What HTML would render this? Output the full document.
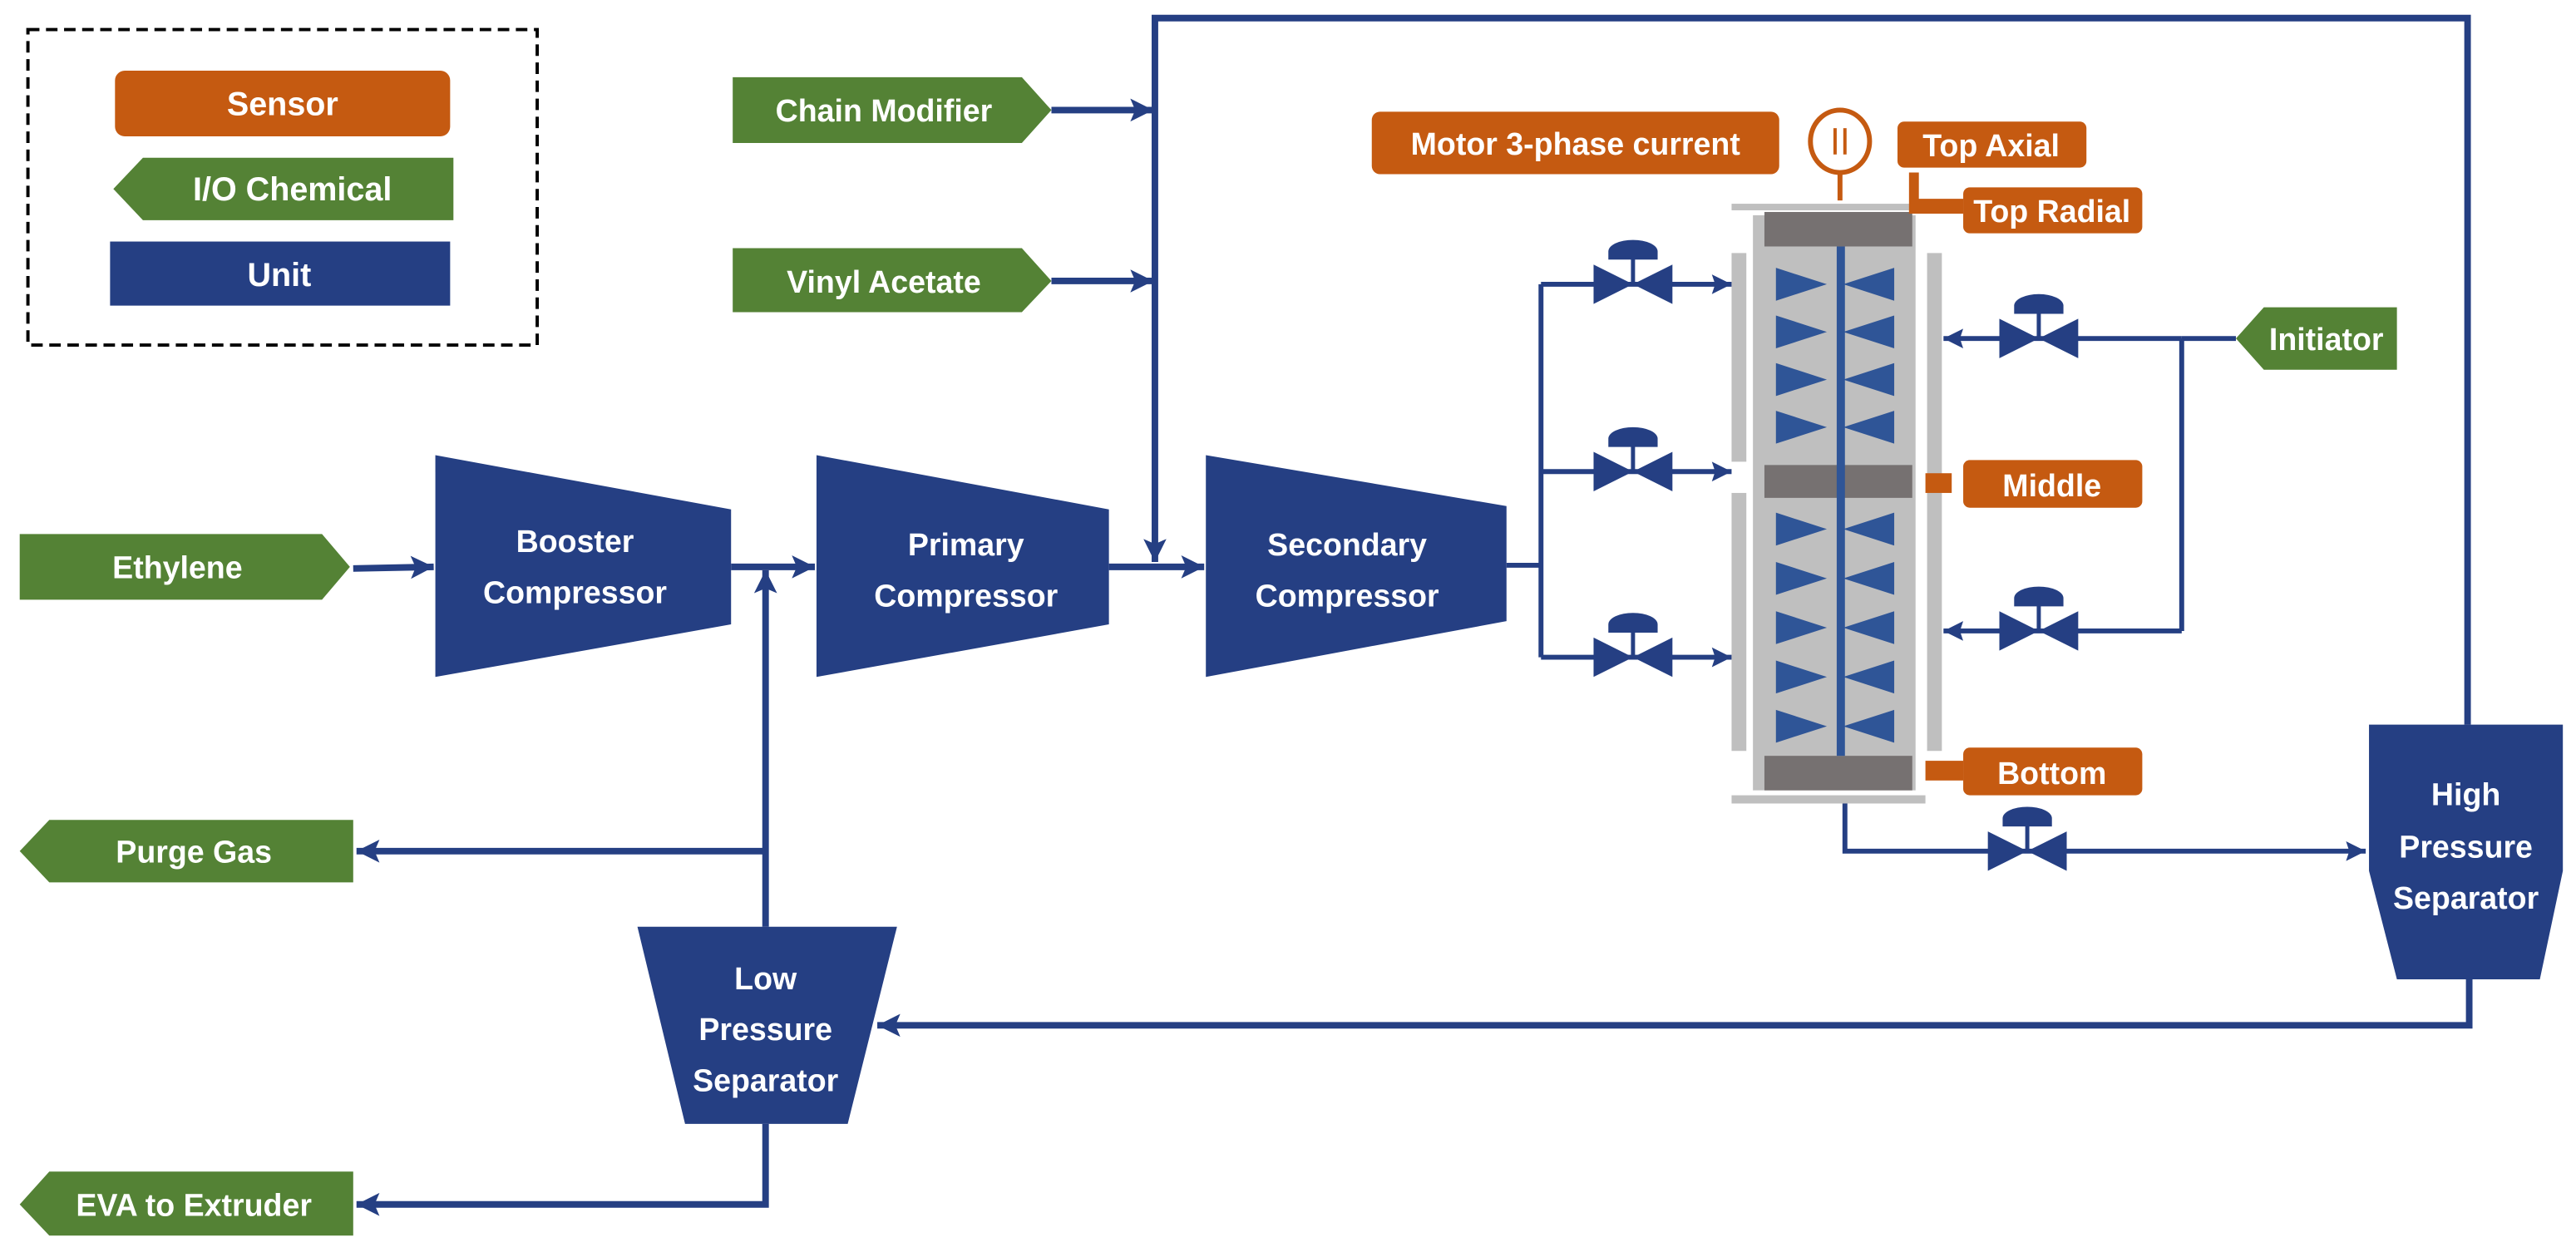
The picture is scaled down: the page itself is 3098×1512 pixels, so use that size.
<!DOCTYPE html>
<html><head><meta charset="utf-8"><style>
html,body{margin:0;padding:0;background:#fff;}
svg{display:block;}
text{font-family:"Liberation Sans",sans-serif;font-weight:bold;fill:#fff;text-anchor:middle;}
</style></head><body>
<svg width="3098" height="1512" viewBox="0 0 1568 765" preserveAspectRatio="none" xmlns="http://www.w3.org/2000/svg">
<defs>
<marker id="a" markerUnits="userSpaceOnUse" markerWidth="16" markerHeight="16" refX="14" refY="8" orient="auto"><path d="M0,1 L14,8 L0,15 L3,8 Z" fill="#253F83"/></marker>
<marker id="s" markerUnits="userSpaceOnUse" markerWidth="14" markerHeight="14" refX="12" refY="7" orient="auto"><path d="M0,1 L12,7 L0,13 L2,7 Z" fill="#253F83"/></marker>
<g id="v"><path d="M-24,-12 L-24,12 L0,0 Z M24,-12 L24,12 L0,0 Z" fill="#253F83"/><line x1="0" y1="0" x2="0" y2="-16" stroke="#253F83" stroke-width="2.5"/><path d="M-15,-15 L-15,-20 A15,7 0 0 1 15,-20 L15,-15 Z" fill="#253F83"/></g>
<path id="bl" d="M0,-10 L31,0 L0,10 Z M72,-10 L41,0 L72,10 Z" fill="#2F5597"/>
</defs>

<!-- legend -->
<rect x="17" y="18" width="310" height="192" fill="none" stroke="#000" stroke-width="2" stroke-dasharray="7,4"/>
<rect x="70" y="43" width="204" height="40" rx="6" fill="#C55A11"/>
<text x="172" y="70" font-size="20">Sensor</text>
<path d="M69,115 L87,96 L276,96 L276,134 L87,134 Z" fill="#548235"/>
<text x="178" y="122" font-size="20">I/O Chemical</text>
<rect x="67" y="147" width="207" height="39" fill="#253F83"/>
<text x="170" y="174" font-size="20">Unit</text>

<!-- inputs -->
<path d="M446,47 L622,47 L640,67 L622,87 L446,87 Z" fill="#548235"/>
<text x="538" y="74" font-size="19">Chain Modifier</text>
<path d="M446,151 L622,151 L640,171 L622,190 L446,190 Z" fill="#548235"/>
<text x="538" y="178" font-size="19">Vinyl Acetate</text>
<path d="M12,325 L196,325 L213,345 L196,365 L12,365 Z" fill="#548235"/>
<text x="108" y="352" font-size="19">Ethylene</text>
<path d="M12,518 L30,499 L215,499 L215,537 L30,537 Z" fill="#548235"/>
<text x="118" y="525" font-size="19">Purge Gas</text>
<path d="M12,733 L30,713 L215,713 L215,752 L30,752 Z" fill="#548235"/>
<text x="118" y="740" font-size="19">EVA to Extruder</text>
<path d="M1361,206 L1378,187 L1459,187 L1459,225 L1378,225 Z" fill="#548235"/>
<text x="1416" y="213" font-size="19">Initiator</text>

<!-- compressors -->
<path d="M265,277 L445,310 L445,380 L265,412 Z" fill="#253F83"/>
<text x="350" y="336" font-size="19">Booster</text><text x="350" y="367" font-size="19">Compressor</text>
<path d="M497,277 L675,310 L675,380 L497,412 Z" fill="#253F83"/>
<text x="588" y="338" font-size="19">Primary</text><text x="588" y="369" font-size="19">Compressor</text>
<path d="M734,277 L917,308 L917,378 L734,412 Z" fill="#253F83"/>
<text x="820" y="338" font-size="19">Secondary</text><text x="820" y="369" font-size="19">Compressor</text>

<!-- separators -->
<path d="M1442,441 L1560,441 L1560,530 L1546,596 L1459,596 L1442,530 Z" fill="#253F83"/>
<text x="1501" y="490" font-size="19">High</text><text x="1501" y="522" font-size="19">Pressure</text><text x="1501" y="553" font-size="19">Separator</text>
<path d="M388,564 L546,564 L516,684 L417,684 Z" fill="#253F83"/>
<text x="466" y="602" font-size="19">Low</text><text x="466" y="633" font-size="19">Pressure</text><text x="466" y="664" font-size="19">Separator</text>

<!-- main lines -->
<g stroke="#253F83" fill="none" stroke-width="4">
<line x1="215" y1="346" x2="264" y2="345" marker-end="url(#a)"/>
<line x1="445" y1="345" x2="496" y2="345" marker-end="url(#a)"/>
<line x1="466" y1="564" x2="466" y2="347" marker-end="url(#a)"/>
<line x1="675" y1="345" x2="733" y2="345" marker-end="url(#a)"/>
<line x1="640" y1="67" x2="702" y2="67" marker-end="url(#a)"/>
<line x1="640" y1="171" x2="702" y2="171" marker-end="url(#a)"/>
<polyline points="1502,441 1502,11 703,11 703,342" marker-end="url(#a)"/>
<line x1="466" y1="518" x2="217" y2="518" marker-end="url(#a)"/>
<polyline points="466,684 466,733 217,733" marker-end="url(#a)"/>
<polyline points="1503,596 1503,624 534,624" marker-end="url(#a)"/>
</g>
<g stroke="#253F83" fill="none" stroke-width="3">
<line x1="917" y1="344" x2="938" y2="344"/>
<line x1="938" y1="173" x2="938" y2="400"/>
<line x1="938" y1="173" x2="1054" y2="173" marker-end="url(#s)"/>
<line x1="938" y1="287" x2="1054" y2="287" marker-end="url(#s)"/>
<line x1="938" y1="400" x2="1054" y2="400" marker-end="url(#s)"/>
<line x1="1361" y1="206" x2="1328" y2="206"/>
<line x1="1328" y1="206" x2="1328" y2="384"/>
<line x1="1328" y1="206" x2="1183" y2="206" marker-end="url(#s)"/>
<line x1="1328" y1="384" x2="1183" y2="384" marker-end="url(#s)"/>
<polyline points="1123,488 1123,518 1440,518" marker-end="url(#s)"/>
</g>
<use href="#v" x="994" y="173"/><use href="#v" x="994" y="287"/><use href="#v" x="994" y="400"/>
<use href="#v" x="1241" y="206"/><use href="#v" x="1241" y="384"/><use href="#v" x="1234" y="518"/>

<!-- reactor -->
<rect x="1054" y="124" width="118" height="4" fill="#BFBFBF"/>
<rect x="1054" y="484" width="118" height="5" fill="#BFBFBF"/>
<rect x="1067" y="131" width="99" height="350" fill="#BFBFBF"/>
<rect x="1054" y="154" width="9" height="127" fill="#BFBFBF"/>
<rect x="1054" y="300" width="9" height="157" fill="#BFBFBF"/>
<rect x="1173" y="154" width="9" height="303" fill="#BFBFBF"/>
<rect x="1074" y="129" width="90" height="21" fill="#767171"/>
<rect x="1074" y="283" width="90" height="20" fill="#767171"/>
<rect x="1074" y="460" width="90" height="21" fill="#767171"/>
<rect x="1118" y="150" width="5" height="310" fill="#2F5597"/>
<use href="#bl" x="1081" y="173"/><use href="#bl" x="1081" y="202"/><use href="#bl" x="1081" y="231"/><use href="#bl" x="1081" y="260"/>
<use href="#bl" x="1081" y="322"/><use href="#bl" x="1081" y="352"/><use href="#bl" x="1081" y="382"/><use href="#bl" x="1081" y="412"/><use href="#bl" x="1081" y="442"/>

<!-- sensors -->
<rect x="835" y="68" width="248" height="38" rx="5" fill="#C55A11"/>
<text x="959" y="94" font-size="19">Motor 3-phase current</text>
<ellipse cx="1120" cy="86" rx="18" ry="19" fill="#fff" stroke="#C55A11" stroke-width="3"/>
<rect x="1116" y="78" width="2" height="16" fill="#C55A11"/><rect x="1122" y="78" width="2" height="16" fill="#C55A11"/>
<line x1="1120" y1="105" x2="1120" y2="122" stroke="#C55A11" stroke-width="3"/>
<rect x="1155" y="74" width="115" height="28" rx="4" fill="#C55A11"/>
<text x="1212" y="95" font-size="19">Top Axial</text>
<path d="M1162,105 L1168,105 L1168,121 L1195,121 L1195,130 L1162,130 Z" fill="#C55A11"/>
<rect x="1195" y="114" width="109" height="28" rx="4" fill="#C55A11"/>
<text x="1249" y="135" font-size="19">Top Radial</text>
<rect x="1172" y="288" width="16" height="12" fill="#C55A11"/>
<rect x="1195" y="280" width="109" height="29" rx="4" fill="#C55A11"/>
<text x="1249" y="302" font-size="19">Middle</text>
<rect x="1172" y="463" width="23" height="12" fill="#C55A11"/>
<rect x="1195" y="455" width="109" height="29" rx="4" fill="#C55A11"/>
<text x="1249" y="477" font-size="19">Bottom</text>
</svg>
</body></html>
